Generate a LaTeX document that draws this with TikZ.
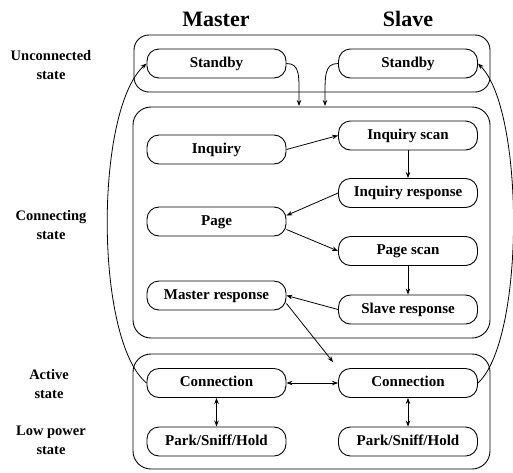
\documentclass[tikz,border=0pt]{standalone}
\usepackage{fontspec}
\setmainfont{Liberation Serif}
\usetikzlibrary{arrows.meta,calc}
\begin{document}
\begin{tikzpicture}[x=1pt,y=-1pt,
  st/.style={draw,line width=0.9pt,rounded corners=12pt,minimum width=139pt,minimum height=29pt,inner sep=0pt,text height=10pt,text depth=3pt,font=\fontsize{15}{18}\selectfont\bfseries},
  grp/.style={draw,line width=0.9pt,rounded corners=18pt,inner sep=0pt},
  lab/.style={align=center,font=\fontsize{14.5}{19}\selectfont\bfseries},
  ttl/.style={font=\fontsize{22}{26}\selectfont\bfseries},
  arr/.style={line width=0.8pt,-{Stealth[length=6pt,width=4.5pt]}},
  darr/.style={line width=0.8pt,{Stealth[length=6pt,width=4.5pt]}-{Stealth[length=6pt,width=4.5pt]}}]
\useasboundingbox (0,0) rectangle (513,472);

% titles
\node[ttl] (tm) at (216,19) {Master};
\node[ttl] (ts) at (408,19) {Slave};

% left labels
\node[lab] (l1) at (51,65.5) {Unconnected\\state};
\node[lab] (l2) at (51,225) {Connecting\\state};
\node[lab] (l3) at (49,384) {Active\\state};
\node[lab] (l4) at (51,440) {Low power\\state};

% group boxes
\node[grp,rounded corners=15pt,minimum width=356pt,minimum height=57pt] (g1) at (312,63.5) {};
\node[grp,minimum width=357pt,minimum height=231pt] (g2) at (311.5,222.5) {};
\node[grp,minimum width=357pt,minimum height=115pt] (g3) at (311.5,411.5) {};

% state nodes
\node[st] (mstand) at (216.5,63.5) {Standby};
\node[st] (sstand) at (408,63.5) {Standby};
\node[st] (inq) at (216.5,149.5) {Inquiry};
\node[st] (inqs) at (408,135.5) {Inquiry scan};
\node[st] (inqr) at (408,193) {Inquiry response};
\node[st] (page) at (216.5,221.5) {Page};
\node[st] (pages) at (408,251) {Page scan};
\node[st] (mresp) at (216.5,295.5) {Master response};
\node[st] (sresp) at (408,309.5) {Slave response};
\node[st] (mconn) at (216.5,383) {Connection};
\node[st] (sconn) at (408,383) {Connection};
\node[st] (mpark) at (216.5,441.5) {Park/Sniff/Hold};
\node[st] (spark) at (408,441.5) {Park/Sniff/Hold};

% free ends
\coordinate (t1) at (299,106);
\coordinate (t2) at (325,106);
\coordinate (t3) at (333,362);

% connectors
\draw[arr] (mstand.east) .. controls +(14,0) and +(0,-30) .. (t1);
\draw[arr] (sstand.west) .. controls +(-14,0) and +(0,-30) .. (t2);
\draw[arr] (inq.east) -- (inqs.west);
\draw[arr] (inqs.south) -- (inqr.north);
\draw[arr] (inqr.west) -- ([yshift=6pt]page.east);
\draw[arr] ([yshift=-8pt]page.east) -- (pages.west);
\draw[arr] (pages.south) -- (sresp.north);
\draw[arr] (sresp.west) -- (mresp.east);
\draw[arr] ([yshift=-8pt]mresp.east) -- (t3);
\draw[darr] (mconn.east) -- (sconn.west);
\draw[darr] (mconn.south) -- (mpark.north);
\draw[darr] (sconn.south) -- (spark.north);
\draw[arr] (mconn.west) .. controls +(-52,-43) and +(-52,47) .. (mstand.west);
\draw[arr] (sconn.east) .. controls +(47,-43) and +(47,47) .. (sstand.east);
\end{tikzpicture}
\end{document}
